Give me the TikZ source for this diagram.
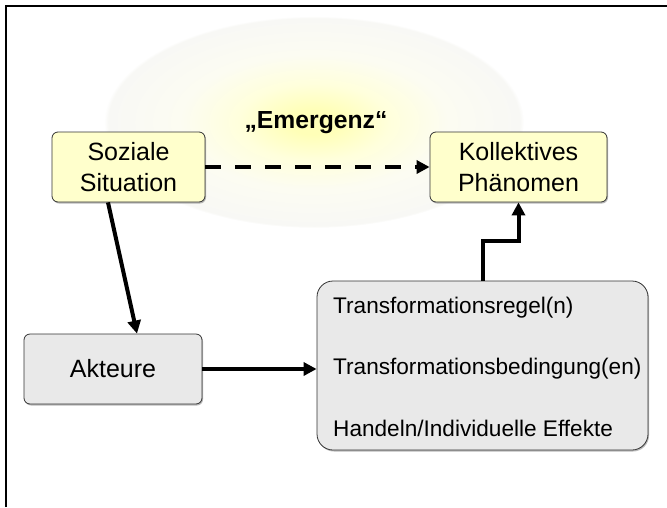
\documentclass[tikz,border=0pt]{standalone}
\usepackage{fontspec}
\setmainfont{Liberation Sans}
\usetikzlibrary{arrows.meta,shadows}

\definecolor{boxyellow}{HTML}{FFFFCC}
\definecolor{boxgray}{HTML}{E9E9E9}
\definecolor{boxline}{HTML}{333333}
\definecolor{glowcore}{HTML}{FFFFB8}
\definecolor{glowmid}{HTML}{FFFFDC}
\definecolor{glowfade}{HTML}{FCFCF2}
\definecolor{glowedge}{HTML}{F8F8F5}

% soft yellow halo behind the upper level (path boundary sits at 25bp)
\pgfdeclareradialshading{halo}{\pgfpoint{0bp}{0bp}}{%
  color(0bp)=(glowcore); color(3bp)=(glowcore);
  color(9bp)=(glowmid); color(16bp)=(glowfade);
  color(24.5bp)=(glowedge); color(25bp)=(white); color(50bp)=(white)}

\tikzset{
  basebox/.style={draw=boxline, line width=0.8pt, rounded corners=6pt,
    align=center, inner sep=0pt,
    drop shadow={shadow xshift=1pt, shadow yshift=-1.5pt, fill=black!45, opacity=0.6}},
  macrobox/.style={basebox, fill=boxyellow, font=\fontsize{25}{31}\selectfont},
  microbox/.style={basebox, fill=boxgray, font=\fontsize{25}{31}\selectfont},
  rulebox/.style={basebox, fill=boxgray, rounded corners=16pt},
  ruletext/.style={font=\fontsize{22.6}{61.5}\selectfont, align=left, anchor=west, inner sep=0pt},
  link/.style={line width=4pt, -{Triangle[length=13pt,width=13pt]}},
  emergent/.style={link, dash pattern=on 16pt off 14pt},
  frameline/.style={line width=1.8pt, black}
}

\begin{document}
\begin{tikzpicture}[x=1pt, y=-1pt]
  \useasboundingbox (0,0) rectangle (667,507);

  % frame lines
  \draw[frameline] (6,507) coordinate (fb) -- (6,6) coordinate (fc) -- (667,6) coordinate (fr);

  % halo
  \shade[shading=halo] (314,122) ellipse [x radius=210, y radius=106];

  % boxes
  \node[macrobox, minimum width=153pt, minimum height=70pt] (soz) at (128.5,167) {Soziale\\Situation};
  \node[macrobox, minimum width=177pt, minimum height=70pt] (kol) at (518.5,167) {Kollektives\\Phänomen};
  \node[microbox, minimum width=178pt, minimum height=70pt] (akt) at (113,369) {Akteure};
  \node[rulebox, minimum width=331pt, minimum height=169pt] (trans) at (482.5,365.5) {};
  \node[ruletext] (rules) at (333,366.5)
    {Transformationsregel(n)\\Transformationsbedingung(en)\\Handeln/Individuelle Effekte};

  % label of the upper-level link
  \node[font=\bfseries\fontsize{24.7}{30}\selectfont] (emlabel) at (316,123) {„Emergenz“};

  % connectors
  \draw[emergent] (soz.east) -- (kol.west);
  \draw[link] ([xshift=-20.5pt]soz.south) -- ([xshift=24pt]akt.north);
  \draw[link] (akt.east) -- (akt.east -| trans.west);
  \draw[link] (trans.north) -- ++(0,-40) -| (kol.south);
\end{tikzpicture}
\end{document}
